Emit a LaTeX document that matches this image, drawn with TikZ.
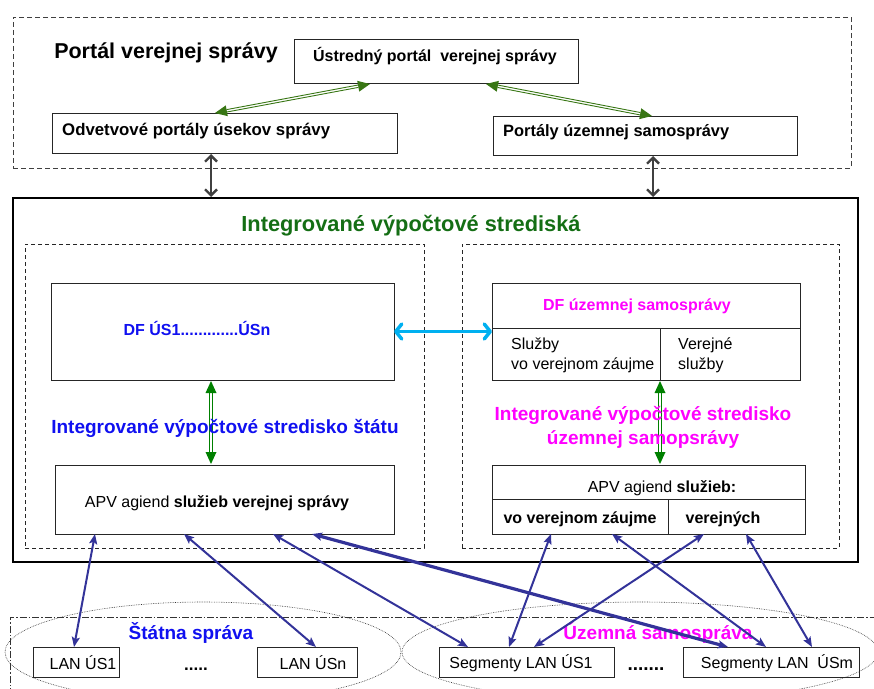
\documentclass[tikz,border=0pt]{standalone}
\usepackage{fontspec}
\setmainfont{Liberation Sans}
\usetikzlibrary{arrows.meta,calc,shapes.geometric}
\definecolor{dgreen}{RGB}{20,110,20}
\definecolor{tgreen}{RGB}{56,118,20}
\definecolor{vgreen}{RGB}{0,128,0}
\definecolor{tblue}{RGB}{16,16,240}
\definecolor{tmag}{RGB}{255,0,255}
\definecolor{cyanarr}{RGB}{0,176,240}
\definecolor{navyarr}{RGB}{51,51,153}
\definecolor{garr}{RGB}{64,64,64}
% double-line arrow with filled triangular tips at both ends:
% #1 colour, #2 tip length, #3 half tip width, #4 half gap, #5 from, #6 to
\newcommand\dblarrow[6]{%
  \fill[#1] (#5) -- ($(#5)!#2!(#6)!#3!90:(#6)$) -- ($(#5)!#2!(#6)!#3!-90:(#6)$) -- cycle;
  \fill[#1] (#6) -- ($(#6)!#2!(#5)!#3!90:(#5)$) -- ($(#6)!#2!(#5)!#3!-90:(#5)$) -- cycle;
  \draw[#1, line width=0.9pt] ($(#5)!#2!(#6)!#4!90:(#6)$) -- ($(#6)!#2!(#5)!#4!-90:(#5)$);
  \draw[#1, line width=0.9pt] ($(#5)!#2!(#6)!#4!-90:(#6)$) -- ($(#6)!#2!(#5)!#4!90:(#5)$);
}
\begin{document}
\begin{tikzpicture}[x=1pt,y=-1pt,
  box/.style={draw=black!85, rectangle, inner sep=0pt, outer sep=0pt, anchor=north west, line width=0.9pt},
  dbox/.style={box, dash pattern=on 4pt off 3pt, line width=0.8pt},
  tx/.style={inner sep=0pt, font=\fontsize{16}{19}\selectfont},
  txb/.style={inner sep=0pt, font=\bfseries\fontsize{16}{19}\selectfont},
  big/.style={inner sep=0pt, font=\bfseries\fontsize{19}{23}\selectfont},
  grayarrow/.style={draw=garr, line width=2.4pt, {Straight Barb[length=6pt,width=12pt]}-{Straight Barb[length=6pt,width=12pt]}},
  cyarrow/.style={draw=cyanarr, line width=3.5pt, {Straight Barb[length=6pt,width=15pt,round]}-{Straight Barb[length=6pt,width=15pt,round]}},
  blarrow/.style={draw=navyarr, line width=2pt, {Stealth[length=10pt,width=8pt,inset=2pt]}-{Stealth[length=10pt,width=8pt,inset=2pt]}},
  ell/.style={ellipse, draw=black!80, dash pattern=on 0.7pt off 1pt, line width=0.6pt, inner sep=0pt},
]
\useasboundingbox (0,0) rectangle (874,688);
\clip (0,0) rectangle (874,688);

% ---- portal area
\node[box, draw=black!75, dash pattern=on 5pt off 3pt, line width=0.8pt, minimum width=838pt, minimum height=151pt] (portal) at (13,17) {};
\node[inner sep=0pt, font=\bfseries\fontsize{21.5}{25}\selectfont] (ptitle) at (166,53) {Portál verejnej správy};
\node[box, minimum width=284pt, minimum height=44pt] (ustr) at (294,39) {};
\node[txb] (ustrt) at (435,56) {Ústredný portál\ \ verejnej správy};
\node[box, minimum width=345pt, minimum height=40pt] (odv) at (52,113) {};
\node[txb, anchor=west, font=\bfseries\fontsize{16.8}{19}\selectfont] (odvt) at (62,131) {Odvetvové portály úsekov správy};
\node[box, minimum width=304pt, minimum height=39pt] (port) at (493,116) {};
\node[txb, anchor=west, font=\bfseries\fontsize{16.4}{19}\selectfont] (portt) at (503,132) {Portály územnej samosprávy};

\coordinate (g1a) at ($(odv.north west)+(163,0)$);
\coordinate (g1b) at ($(ustr.south west)+(76,1)$);
\coordinate (g2a) at ($(ustr.south west)+(192,1)$);
\coordinate (g2b) at ($(port.north west)+(159,0)$);
\dblarrow{tgreen}{12pt}{5.5pt}{1.2pt}{g1a}{g1b}
\dblarrow{tgreen}{12pt}{5.5pt}{1.2pt}{g2a}{g2b}

% ---- big box
\node[box, line width=1.8pt, draw=black, minimum width=845pt, minimum height=364pt] (bigbox) at (13,198) {};
\draw[grayarrow] ($(odv.south west)+(159,1)$) -- ($(bigbox.north west)+(198,-1)$);
\draw[grayarrow] ($(port.south west)+(160,1)$) -- ($(bigbox.north west)+(640,-1)$);
\node[inner sep=0pt, font=\bfseries\fontsize{21.8}{25}\selectfont, text=dgreen] (ivs) at (411,226) {Integrované výpočtové strediská};

\node[dbox, minimum width=399pt, minimum height=304pt] (lstate) at (25,244) {};
\node[dbox, minimum width=377pt, minimum height=304pt] (rself) at (462,244) {};

% ---- left (state)
\node[box, minimum width=343pt, minimum height=97pt] (dfl) at (51,283) {};
\node[txb, text=tblue] (dflt) at (197,328) {DF ÚS1.............ÚSn};
\node[box, minimum width=339pt, minimum height=69pt] (apvl) at (55,465) {};
\node[tx] (apvlt) at (217,503) {APV agiend \textbf{služieb verejnej správy}};
\coordinate (v1a) at ($(dfl.south west)+(160,1)$);
\coordinate (v1b) at ($(apvl.north west)+(156,-1)$);
\dblarrow{vgreen}{12pt}{5.5pt}{1.3pt}{v1a}{v1b}
\node[big, text=tblue] (ivss) at (225,428) {Integrované výpočtové stredisko štátu};

% ---- right (self-government)
\node[box, minimum width=308pt, minimum height=97pt] (dfr) at (492,283) {};
\draw[line width=0.9pt, black!85] ($(dfr.north west)+(0,45)$) -- ($(dfr.north east)+(0,45)$);
\draw[line width=0.9pt, black!85] ($(dfr.north west)+(168,45)$) -- ($(dfr.south west)+(168,0)$);
\node[txb, text=tmag] (dfrt) at (637,306) {DF územnej samosprávy};
\node[tx, anchor=base west] (sl1) at (511,349) {Služby};
\node[tx, anchor=base west] (sl2) at (511,369) {vo verejnom záujme};
\node[tx, anchor=base west] (vs1) at (678,349) {Verejné};
\node[tx, anchor=base west] (vs2) at (678,369) {služby};

\node[box, minimum width=313pt, minimum height=69pt] (apvr) at (492,465) {};
\draw[line width=0.9pt, black!85] ($(apvr.north west)+(0,34)$) -- ($(apvr.north east)+(0,34)$);
\draw[line width=0.9pt, black!85] ($(apvr.north west)+(176,34)$) -- ($(apvr.south west)+(176,0)$);
\node[tx] (apvrt) at (662,488) {APV agiend \textbf{služieb:}};
\node[txb] (vvz) at (580,519) {vo verejnom záujme};
\node[txb] (vrj) at (723,519) {verejných};
\coordinate (v2a) at ($(dfr.south west)+(168,1)$);
\coordinate (v2b) at ($(apvr.north west)+(168,-1)$);
\dblarrow{vgreen}{12pt}{5.5pt}{1.3pt}{v2a}{v2b}
\node[big, text=tmag, anchor=base] (ivsu1) at (643,420) {Integrované výpočtové stredisko};
\node[big, text=tmag, anchor=base] (ivsu2) at (643,444) {územnej samopsrávy};

\draw[cyarrow] (dfl.east) -- (dfr.west);

% ---- bottom
\draw[black!80, line width=0.7pt, dash pattern=on 7pt off 2pt on 1.5pt off 2pt] (10,720) -- (10,617) -- (900,617);
\node[ell, minimum width=396pt, minimum height=100pt] (stell) at (203,652) {};
\node[ell, minimum width=476pt, minimum height=100pt] (usell) at (640,652) {};

\node[box, minimum width=86pt, minimum height=30pt] (lan1) at (33,647) {};
\node[box, minimum width=100pt, minimum height=30pt] (lann) at (257,647) {};
\node[box, minimum width=175pt, minimum height=30pt] (seg1) at (439,647) {};
\node[box, minimum width=176pt, minimum height=30pt] (segm) at (683,647) {};
\node[tx] (lan1t) at (83,663) {LAN ÚS1};
\node[tx] (lannt) at (313,663) {LAN ÚSn};
\node[tx] (seg1t) at (521,663) {Segmenty LAN ÚS1};
\node[tx] (segmt) at (777,663) {Segmenty LAN\ \ ÚSm};
\node[inner sep=0pt, font=\bfseries\fontsize{17}{20}\selectfont, anchor=base] (dots1) at (196,670) {.....};
\node[inner sep=0pt, font=\bfseries\fontsize{19}{22}\selectfont, anchor=base] (dots2) at (646,670) {.......};
\node[big, text=tblue] (stt) at (191,633) {Štátna správa};
\node[big, text=tmag] (ust) at (658,633) {Územná samospráva};

% ---- blue connectors
\draw[blarrow] ($(apvl.south west)+(40,0)$) -- ($(lan1.north west)+(41,0)$);
\draw[blarrow] ($(apvl.south west)+(129,0)$) -- ($(lann.north west)+(59,0)$);
\draw[blarrow] ($(apvl.south west)+(218,0)$) -- ($(seg1.north west)+(29,0)$);
\draw[blarrow, line width=3.2pt] ($(apvl.south west)+(257,0)$) -- ($(segm.north west)+(45,0)$);
\draw[blarrow] ($(apvr.south west)+(59,0)$) -- ($(seg1.north west)+(70,0)$);
\draw[blarrow] ($(apvr.south west)+(120,0)$) -- ($(segm.north west)+(83,0)$);
\draw[blarrow] ($(apvr.south west)+(212,0)$) -- ($(seg1.north west)+(95,0)$);
\draw[blarrow] ($(apvr.south west)+(254,0)$) -- ($(segm.north west)+(129,0)$);
\end{tikzpicture}
\end{document}
